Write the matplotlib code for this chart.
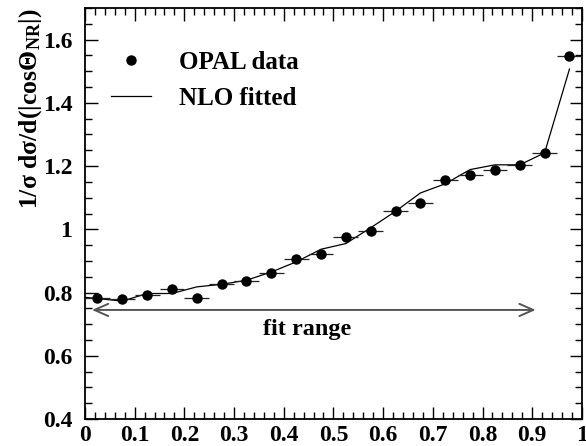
import numpy as np
import matplotlib
matplotlib.use("Agg")
import matplotlib.pyplot as plt
from matplotlib.ticker import MultipleLocator
from matplotlib.lines import Line2D

plt.rcParams['font.family'] = ['Liberation Serif', 'DejaVu Serif']
plt.rcParams['font.weight'] = 'bold'
plt.rcParams['mathtext.fontset'] = 'custom'
plt.rcParams['mathtext.rm'] = 'Liberation Serif:bold'
plt.rcParams['mathtext.bf'] = 'Liberation Serif:bold'
plt.rcParams['mathtext.it'] = 'Liberation Serif:bold'

# Data
bin_centers = [0.025, 0.075, 0.125, 0.175, 0.225, 0.275, 0.325, 0.375, 0.425, 0.475,
               0.525, 0.575, 0.625, 0.675, 0.725, 0.775, 0.825, 0.875, 0.925, 0.975]
opal_data = [0.784, 0.780, 0.792, 0.810, 0.784, 0.828, 0.836, 0.862, 0.905, 0.923,
             0.975, 0.996, 1.057, 1.082, 1.156, 1.171, 1.187, 1.202, 1.242, 1.547]
bin_half_width = 0.025

nlo_x = [0.0, 0.075, 0.125, 0.175, 0.225, 0.275, 0.325, 0.375, 0.425, 0.475,
         0.525, 0.575, 0.625, 0.675, 0.725, 0.775, 0.825, 0.875, 0.925, 0.975]
nlo_y = [0.785, 0.773, 0.797, 0.797, 0.818, 0.826, 0.839, 0.865, 0.897, 0.937,
         0.955, 1.005, 1.057, 1.115, 1.144, 1.189, 1.204, 1.204, 1.242, 1.507]

fit_range = [0.014, 0.907]
fit_arrow_y = 0.745

fig = plt.figure(figsize=(5.86, 4.46), dpi=100)
ax = fig.add_axes([0.145, 0.0605, 0.848, 0.9215])

ax.errorbar(bin_centers, opal_data, xerr=bin_half_width, fmt='o', color='black',
            ecolor='#222222', elinewidth=0.9, markersize=6.5, capsize=0, zorder=3)
ax.plot(nlo_x, nlo_y, color='black', lw=0.9, zorder=2)

ax.annotate('', xy=(fit_range[0], fit_arrow_y), xytext=(fit_range[1], fit_arrow_y),
            arrowprops=dict(arrowstyle='<->, head_length=0.5, head_width=0.22',
                            color='#555555', lw=1.4,
                            mutation_scale=20, shrinkA=0, shrinkB=0))
ax.text(np.mean(fit_range) - 0.013, 0.684, 'fit range', ha='center', va='center',
        fontsize=17.5, fontweight='bold')

ax.set_xlim(0, 1)
ax.set_ylim(0.4, 1.7)
ax.xaxis.set_minor_locator(MultipleLocator(0.02))
ax.yaxis.set_minor_locator(MultipleLocator(0.05))
ax.set_xticks(np.arange(0, 1.01, 0.1))
ax.set_xticklabels(['0', '0.1', '0.2', '0.3', '0.4', '0.5', '0.6', '0.7', '0.8', '0.9', '1'])
ax.set_yticks([0.4, 0.6, 0.8, 1.0, 1.2, 1.4, 1.6])
ax.set_yticklabels(['0.4', '0.6', '0.8', '1', '1.2', '1.4', '1.6'])
ax.tick_params(which='both', direction='in', top=True, right=True, labelsize=17, width=1)
ax.tick_params(which='major', length=9)
ax.tick_params(axis='x', which='major', pad=4)
ax.tick_params(axis='y', which='major', pad=9)
ax.tick_params(which='minor', length=5)
for s in ax.spines.values():
    s.set_linewidth(1.3)

ax.set_ylabel(r'1/σ dσ/d(|cosΘ$_{\mathbf{NR}}$|)', fontsize=18.5, fontweight='bold',
              loc='top', labelpad=-1)

handles = [Line2D([], [], marker='o', color='black', linestyle='none', markersize=6.5),
           Line2D([], [], color='black', lw=0.9)]
leg = ax.legend(handles, ['OPAL data', 'NLO fitted'], loc='upper left',
                bbox_to_anchor=(0.007, 0.95), frameon=False,
                fontsize=18, handlelength=1.62, handletextpad=1.1, labelspacing=0.5,
                numpoints=1)

fig.savefig('out.png', dpi=100)
